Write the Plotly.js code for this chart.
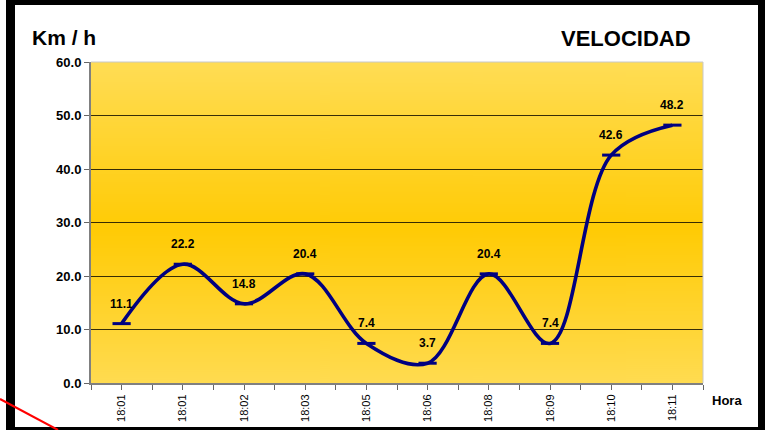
<!DOCTYPE html>
<html>
<head>
<meta charset="utf-8">
<script src="https://cdn.plot.ly/plotly-3.0.1.min.js"></script>
<style>
  html, body { margin: 0; padding: 0; background: #ffffff; }
  #wrap { position: relative; width: 765px; height: 430px; overflow: hidden; }
  #chart { position: absolute; left: 0; top: 0; width: 765px; height: 430px; }
  .frame { position: absolute; background: #000; }
  #deco { position: absolute; left: 0; top: 0; pointer-events: none; }
</style>
</head>
<body>
<div id="wrap">
  <div id="chart"></div>
  <div class="frame" style="left:6px; top:0; width:759px; height:5px;"></div>
  <div class="frame" style="left:6px; top:0; width:9px; height:430px;"></div>
  <div class="frame" style="left:758px; top:0; width:7px; height:430px;"></div>
  <div class="frame" style="left:6px; top:427px; width:759px; height:3px;"></div>
  <svg id="deco" width="765" height="430"><line x1="0" y1="399" x2="58" y2="430" stroke="#ff0000" stroke-width="2"/></svg>
</div>
<script>
// ---- data ----
var horas = ["18:01", "18:01", "18:02", "18:03", "18:05", "18:06", "18:08", "18:09", "18:10", "18:11"];
var velocidad = [11.1, 22.2, 14.8, 20.4, 7.4, 3.7, 20.4, 7.4, 42.6, 48.2];
var yTicks = [0, 10, 20, 30, 40, 50, 60];
var chartTitle = "VELOCIDAD";
var yTitle = "Km / h";
var xTitle = "Hora";

// ---- helpers ----
var idx = horas.map(function (_, i) { return i; });

// x ticks: category centers carry labels, boundaries carry plain ticks
var xTickVals = [], xTickText = [];
for (var i = 0; i <= horas.length; i++) {
  xTickVals.push(i - 0.5); xTickText.push("");
  if (i < horas.length) { xTickVals.push(i); xTickText.push(horas[i]); }
}

// background gradient image
var cv = document.createElement("canvas");
cv.width = 4; cv.height = 320;
var ctx = cv.getContext("2d");
var g = ctx.createLinearGradient(0, 0, 0, 320);
g.addColorStop(0, "#FFDD55");
g.addColorStop(0.52, "#FFCB05");
g.addColorStop(1, "#FFDB50");
ctx.fillStyle = g;
ctx.fillRect(0, 0, 4, 320);
var bgURL = cv.toDataURL("image/png");

var FONT = "Liberation Sans, Arial, sans-serif";

var trace = {
  x: idx,
  y: velocidad,
  type: "scatter",
  mode: "lines+markers",
  line: { color: "#000080", width: 3.6, shape: "spline", smoothing: 1 },
  marker: { symbol: "line-ew", size: 13, color: "#000080", line: { color: "#000080", width: 3 } },
  hoverinfo: "skip",
  cliponaxis: false
};

var annotations = velocidad.map(function (v, i) {
  return {
    x: i, y: v, xref: "x", yref: "y",
    text: v.toFixed(1), showarrow: false,
    yshift: 20, xanchor: "center", yanchor: "middle",
    font: { family: FONT, size: 12, color: "#000", weight: "bold" }
  };
});
annotations.push({
  xref: "paper", yref: "paper", x: -0.0997, y: 1.0748,
  xanchor: "left", yanchor: "middle", showarrow: false,
  text: yTitle, font: { family: FONT, size: 21, color: "#000", weight: "bold" }
});
annotations.push({
  xref: "paper", yref: "paper", x: 1.0392, y: -0.053,
  xanchor: "center", yanchor: "middle", showarrow: false,
  text: xTitle, font: { family: FONT, size: 13, color: "#000", weight: "bold" }
});

var layout = {
  width: 765, height: 430,
  margin: { l: 91, r: 62, t: 62, b: 47, pad: 0 },
  paper_bgcolor: "#ffffff",
  plot_bgcolor: "rgba(0,0,0,0)",
  showlegend: false,
  title: {
    text: chartTitle, xref: "container", yref: "container",
    x: 561 / 765, y: 1 - 38 / 430, xanchor: "left", yanchor: "middle",
    font: { family: FONT, size: 22, color: "#000", weight: "bold" }
  },
  xaxis: {
    type: "linear", range: [-0.5, horas.length - 0.5],
    tickmode: "array", tickvals: xTickVals, ticktext: xTickText,
    tickangle: -90, ticks: "outside", ticklen: 5, tickwidth: 1, tickcolor: "#666",
    tickfont: { family: FONT, size: 11, color: "#000" },
    showgrid: false, zeroline: false,
    showline: true, linecolor: "#808080", linewidth: 2,
    fixedrange: true
  },
  yaxis: {
    range: [0, 60], tickmode: "array", tickvals: yTicks,
    ticktext: yTicks.map(function (t) { return t.toFixed(1); }),
    ticks: "outside", ticklen: 5, tickwidth: 1, tickcolor: "#666",
    tickfont: { family: FONT, size: 13, color: "#000", weight: "bold" },
    showgrid: true, gridcolor: "rgba(20,15,0,0.85)", gridwidth: 1,
    zeroline: false, showline: true, linecolor: "#808080", linewidth: 2,
    fixedrange: true
  },
  images: [{
    source: bgURL, xref: "paper", yref: "paper", x: 0, y: 1,
    sizex: 1, sizey: 1, sizing: "stretch", xanchor: "left", yanchor: "top",
    layer: "below"
  }],
  shapes: [
    { type: "line", xref: "paper", yref: "paper", x0: 0, x1: 1, y0: 1, y1: 1,
      line: { color: "#c8c8c8", width: 1 }, layer: "above" },
    { type: "line", xref: "paper", yref: "paper", x0: 1, x1: 1, y0: 0, y1: 1,
      line: { color: "#c8c8c8", width: 1 }, layer: "above" }
  ],
  annotations: annotations
};

Plotly.newPlot("chart", [trace], layout, { displayModeBar: false, staticPlot: true });
</script>
</body>
</html>
